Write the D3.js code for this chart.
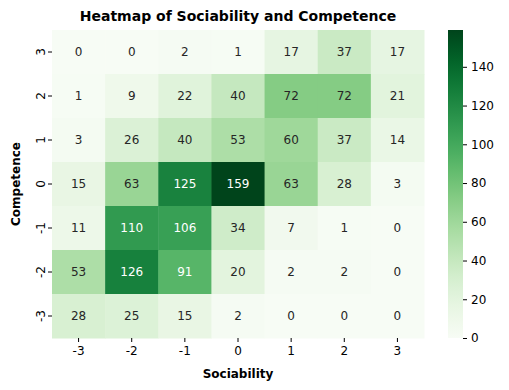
<!DOCTYPE html>
<html lang="en">
<head>
  <meta charset="utf-8">
  <title>Heatmap of Sociability and Competence</title>
  <script src="https://d3js.org/d3.v7.min.js"></script>
  <style>
    body { margin: 0; background: #fff; }
    text { font-family: "DejaVu Sans", sans-serif; }
  </style>
</head>
<body>
<script>
// columns = sociability, rows = competence (top to bottom)
var sociability = ["-3", "-2", "-1", "0", "1", "2", "3"];
var competence = ["3", "2", "1", "0", "-1", "-2", "-3"];
var counts = [
  [0, 0, 2, 1, 17, 37, 17],
  [1, 9, 22, 40, 72, 72, 21],
  [3, 26, 40, 53, 60, 37, 14],
  [15, 63, 125, 159, 63, 28, 3],
  [11, 110, 106, 34, 7, 1, 0],
  [53, 126, 91, 20, 2, 2, 0],
  [28, 25, 15, 2, 0, 0, 0]
];
var cbarTicks = [0, 20, 40, 60, 80, 100, 120, 140];

var w = 509, h = 390;
// note: "top" is a reserved window global, so use plot* names
var plotL = 52, plotR = 424, plotT = 30, plotB = 338;
var fs = "12px";

var svg = d3.select("body").append("svg")
  .attr("width", w)
  .attr("height", h);

var x = d3.scaleBand().domain(sociability).range([plotL, plotR]);
var y = d3.scaleBand().domain(competence).range([plotT, plotB]);

var maxVal = d3.max(counts, function(r) { return d3.max(r); });
var color = d3.scaleSequential(d3.interpolateGreens).domain([0, maxVal]);

// flatten into cells
var cells = [];
counts.forEach(function(row, i) {
  row.forEach(function(v, j) {
    cells.push({ soc: sociability[j], comp: competence[i], v: v });
  });
});

// same rule seaborn uses for annotation colour
function lum(c) {
  var rgb = d3.rgb(c);
  var f = function(u) {
    u = u / 255;
    return u <= 0.03928 ? u / 12.92 : Math.pow((u + 0.055) / 1.055, 2.4);
  };
  return 0.2126 * f(rgb.r) + 0.7152 * f(rgb.g) + 0.0722 * f(rgb.b);
}

svg.selectAll("rect.cell")
  .data(cells)
  .enter()
  .append("rect")
  .attr("class", "cell")
  .attr("x", function(d) { return x(d.soc); })
  .attr("y", function(d) { return y(d.comp); })
  .attr("width", x.bandwidth() + 0.5)
  .attr("height", y.bandwidth() + 0.5)
  .attr("fill", function(d) { return color(d.v); });

svg.selectAll("text.val")
  .data(cells)
  .enter()
  .append("text")
  .attr("class", "val")
  .attr("x", function(d) { return x(d.soc) + x.bandwidth() / 2; })
  .attr("y", function(d) { return y(d.comp) + y.bandwidth() / 2; })
  .attr("dy", "0.36em")
  .attr("text-anchor", "middle")
  .attr("font-size", fs)
  .attr("fill", function(d) { return lum(color(d.v)) < 0.408 ? "#ffffff" : "#262626"; })
  .text(function(d) { return d.v; });

// axes
var xAxis = svg.append("g")
  .attr("transform", "translate(0," + plotB + ")")
  .call(d3.axisBottom(x).tickSize(4).tickPadding(4));
xAxis.select(".domain").remove();
xAxis.selectAll("text").attr("font-size", fs).attr("fill", "#000").style("font-family", "DejaVu Sans");

var yAxis = svg.append("g")
  .attr("transform", "translate(" + plotL + ",0)")
  .call(d3.axisLeft(y).tickSize(4).tickPadding(4));
yAxis.select(".domain").remove();
yAxis.selectAll("text")
  .attr("font-size", fs)
  .attr("fill", "#000")
  .style("font-family", "DejaVu Sans")
  .attr("text-anchor", "middle")
  .attr("dy", "0")
  .attr("x", 0)
  .attr("transform", "translate(-7.5,0) rotate(-90)");

// titles
svg.append("text")
  .attr("x", (plotL + plotR) / 2)
  .attr("y", 21)
  .attr("text-anchor", "middle")
  .attr("font-size", "14px")
  .attr("font-weight", "bold")
  .text("Heatmap of Sociability and Competence");

svg.append("text")
  .attr("x", (plotL + plotR) / 2)
  .attr("y", 378)
  .attr("text-anchor", "middle")
  .attr("font-size", fs)
  .attr("font-weight", "bold")
  .text("Sociability");

svg.append("text")
  .attr("text-anchor", "middle")
  .attr("font-size", fs)
  .attr("font-weight", "bold")
  .attr("transform", "translate(20," + (plotT + plotB) / 2 + ") rotate(-90)")
  .text("Competence");

// colorbar
var cbX = 448, cbW = 15;
var cScale = d3.scaleLinear().domain([0, maxVal]).range([plotB, plotT]);
var defs = svg.append("defs");
var grad = defs.append("linearGradient")
  .attr("id", "cbar")
  .attr("x1", "0").attr("y1", "1").attr("x2", "0").attr("y2", "0");
d3.range(0, 1.0001, 0.05).forEach(function(t) {
  grad.append("stop")
    .attr("offset", t)
    .attr("stop-color", color(t * maxVal));
});
svg.append("rect")
  .attr("x", cbX)
  .attr("y", plotT)
  .attr("width", cbW)
  .attr("height", plotB - plotT)
  .attr("fill", "url(#cbar)");

var cAxis = svg.append("g")
  .attr("transform", "translate(" + (cbX + cbW) + ",0)")
  .call(d3.axisRight(cScale).tickValues(cbarTicks).tickSize(4).tickPadding(4));
cAxis.select(".domain").remove();
cAxis.selectAll("text").attr("font-size", fs).attr("fill", "#000").style("font-family", "DejaVu Sans");
</script>
</body>
</html>
